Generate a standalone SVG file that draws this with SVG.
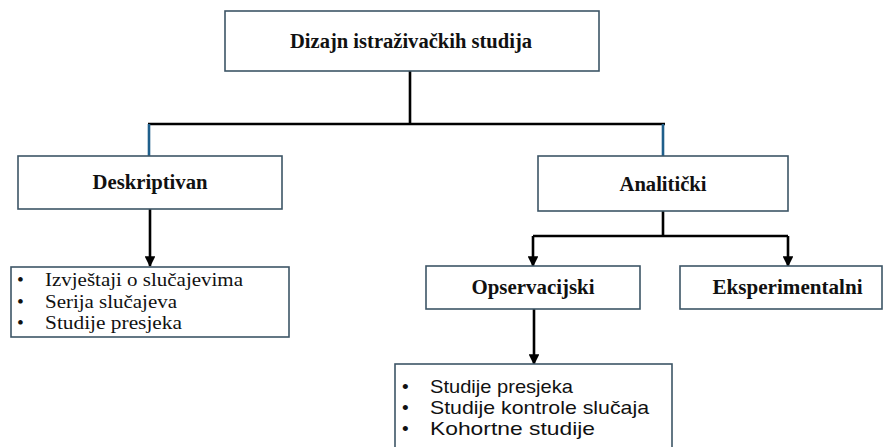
<svg xmlns="http://www.w3.org/2000/svg" width="884" height="447" viewBox="0 0 884 447">
<defs>
<style>
.box{fill:#fff;stroke:#3d5566;stroke-width:1.6}
.lbl{font-family:"Liberation Serif","Times New Roman",serif;font-weight:bold;font-size:20px;fill:#111;text-anchor:middle}
.ser{font-family:"Liberation Serif","Times New Roman",serif;font-size:19.5px;fill:#111}
.sans{font-family:"Liberation Sans",Arial,sans-serif;font-size:19px;fill:#111}
.ln{stroke:#000;stroke-width:2.6;fill:none}
.bl{stroke:#1f5f8b;stroke-width:2.6;fill:none}
</style>
<marker id="ah" viewBox="0 0 10 10" refX="9" refY="5" markerWidth="4.2" markerHeight="4.2" orient="auto" markerUnits="strokeWidth">
<path d="M0,0 L10,5 L0,10 Z" fill="#000"/>
</marker>
</defs>
<rect width="884" height="447" fill="#fff"/>
<g id="connectors">
<path class="ln" d="M410,71 V124 M148,124 H665"/>
<path class="bl" d="M149,124 V156 M663,124 V156"/>
<path class="ln" d="M150,209 V266" marker-end="url(#ah)"/>
<path class="ln" d="M663,211 V236 M533,236 H788"/>
<path class="ln" d="M533,236 V266" marker-end="url(#ah)"/>
<path class="ln" d="M788,236 V266" marker-end="url(#ah)"/>
<path class="ln" d="M534,309 V364" marker-end="url(#ah)"/>
</g>
<g id="root">
<rect class="box" x="225" y="11" width="374" height="60"/>
<text class="lbl" x="411" y="48" textLength="242" lengthAdjust="spacingAndGlyphs">Dizajn istraživačkih studija</text>
</g>
<g id="deskriptivan">
<rect class="box" x="18" y="156" width="264" height="53"/>
<text class="lbl" x="150" y="188.5" textLength="115" lengthAdjust="spacingAndGlyphs">Deskriptivan</text>
</g>
<g id="deskriptivan-list">
<rect class="box" x="11" y="267" width="278" height="70"/>
<text class="ser" x="17" y="286">•</text>
<text class="ser" x="45" y="286" textLength="198" lengthAdjust="spacingAndGlyphs">Izvještaji o slučajevima</text>
<text class="ser" x="17" y="307.5">•</text>
<text class="ser" x="45" y="307.5" textLength="132" lengthAdjust="spacingAndGlyphs">Serija slučajeva</text>
<text class="ser" x="17" y="329">•</text>
<text class="ser" x="45" y="329" textLength="137" lengthAdjust="spacingAndGlyphs">Studije presjeka</text>
</g>
<g id="analiticki">
<rect class="box" x="538" y="156" width="250" height="55"/>
<text class="lbl" x="663" y="191" textLength="87" lengthAdjust="spacingAndGlyphs">Analitički</text>
</g>
<g id="opservacijski">
<rect class="box" x="426" y="266" width="214" height="43"/>
<text class="lbl" x="533" y="294" textLength="123" lengthAdjust="spacingAndGlyphs">Opservacijski</text>
</g>
<g id="eksperimentalni">
<rect class="box" x="680" y="266" width="202" height="43"/>
<text class="lbl" x="787.5" y="294" textLength="150" lengthAdjust="spacingAndGlyphs">Eksperimentalni</text>
</g>
<g id="opservacijski-list">
<rect class="box" x="395" y="364" width="277" height="90"/>
<text class="sans" x="402" y="392.5">•</text>
<text class="sans" x="430" y="392.5" textLength="143" lengthAdjust="spacingAndGlyphs">Studije presjeka</text>
<text class="sans" x="402" y="413.5">•</text>
<text class="sans" x="430" y="413.5" textLength="219" lengthAdjust="spacingAndGlyphs">Studije kontrole slučaja</text>
<text class="sans" x="402" y="434.5">•</text>
<text class="sans" x="430" y="434.5" textLength="165" lengthAdjust="spacingAndGlyphs">Kohortne studije</text>
</g>
</svg>
